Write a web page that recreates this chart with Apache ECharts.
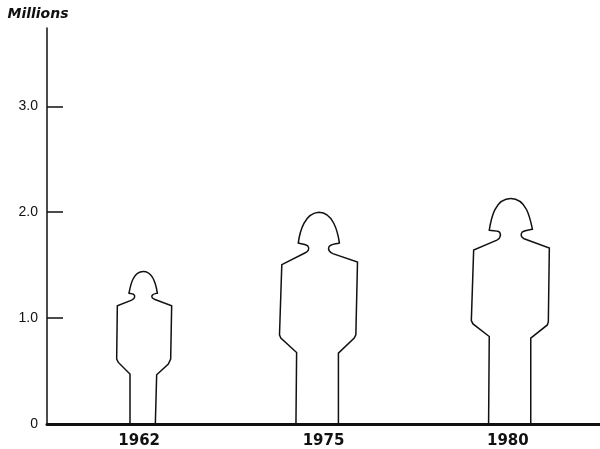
<!DOCTYPE html>
<html>
<head>
<meta charset="utf-8">
<style>
  html, body { margin: 0; padding: 0; background: #fff; }
  #chart { width: 600px; height: 449px; }
</style>
<script src="https://cdn.jsdelivr.net/npm/echarts@6/dist/echarts.min.js"></script>
</head>
<body>
<div id="chart"></div>
<script>
const years = ["1962", "1975", "1980"];
const millions = [1.44, 2.0, 2.13];
const yTicks = [0, 1, 2, 3];
const yTickLabels = ["0", "1.0", "2.0", "3.0"];

// figures are not centred on their labels in the original
const figureWidths = [55, 78, 78];
const figureOffsets = [5, -5, 2.5];

const soldiers = [
  "M90 490 L90 340 L55 305 L50 295 L52 135 L95 118 " +
    "C105 113 107 105 100 100 C97 98 92 98 87 97 " +
    "C92 70 100 32 130 32 C160 32 168 70 172 97 " +
    "C168 98 162 98 158 102 C153 106 155 113 165 116 " +
    "L215 135 L212 295 L205 310 L170 342 L166 490 Z",
  "M78 672 L80 458 L32 415 L28 405 L35 195 L105 160 " +
    "C115 155 120 148 115 140 C112 134 100 134 85 130 " +
    "C90 95 105 40 148 38 C190 38 205 95 210 130 " +
    "C195 134 182 134 178 142 C175 150 180 157 190 162 " +
    "L265 187 L260 405 L255 415 L207 460 L207 672 Z",
  "M85 705 L87 440 L38 402 L33 392 L40 178 L110 148 " +
    "C122 142 124 128 115 122 C110 119 100 120 87 118 " +
    "C93 80 105 22 152 22 C198 22 210 80 217 115 " +
    "C205 118 192 118 186 124 C180 132 184 140 192 144 " +
    "L268 172 L265 395 L262 405 L212 445 L212 705 Z"
];

// custom series: pictorialBar stretches the stroke along with the symbol
const renderFigure = (params, api) => {
  const i = api.value(0);
  const top = api.coord([i, api.value(1)]);
  const base = api.coord([i, 0]);
  const w = figureWidths[i];
  return {
    type: "path",
    shape: {
      pathData: soldiers[i],
      layout: "cover",
      x: top[0] + figureOffsets[i] - w / 2,
      y: top[1],
      width: w,
      height: base[1] - top[1]
    },
    style: { fill: "#fff", stroke: "#111", lineWidth: 1.5 }
  };
};

const chart = echarts.init(document.getElementById("chart"));
chart.setOption({
  animation: false,
  backgroundColor: "#fff",
  grid: { left: 47, right: 0, top: 28, bottom: 25 },
  xAxis: {
    type: "category",
    data: years,
    z: 5,
    axisLine: { lineStyle: { color: "#111", width: 3 } },
    axisTick: { show: false },
    axisLabel: {
      color: "#111",
      fontFamily: "DejaVu Sans",
      fontWeight: "bold",
      fontSize: 15,
      margin: 10
    }
  },
  yAxis: {
    type: "value",
    min: 0,
    max: 3.74,
    name: "Millions",
    nameLocation: "end",
    nameGap: 7,
    nameTextStyle: {
      color: "#111",
      fontFamily: "DejaVu Sans",
      fontWeight: "bold",
      fontStyle: "italic",
      fontSize: 14,
      align: "center",
      padding: [0, 18, 0, 0]
    },
    splitLine: { show: false },
    axisLine: { show: true, lineStyle: { color: "#111", width: 1.5 } },
    axisTick: {
      show: true,
      inside: true,
      length: 16,
      customValues: yTicks,
      lineStyle: { color: "#111", width: 1.5 }
    },
    axisLabel: {
      color: "#111",
      fontFamily: "Liberation Sans",
      fontSize: 14,
      margin: 9,
      customValues: yTicks,
      formatter: v => yTickLabels[yTicks.indexOf(v)]
    }
  },
  series: [
    {
      type: "custom",
      renderItem: renderFigure,
      encode: { x: 0, y: 1 },
      clip: false,
      z: 1,
      data: millions.map((v, i) => [i, v])
    }
  ]
});
</script>
</body>
</html>
